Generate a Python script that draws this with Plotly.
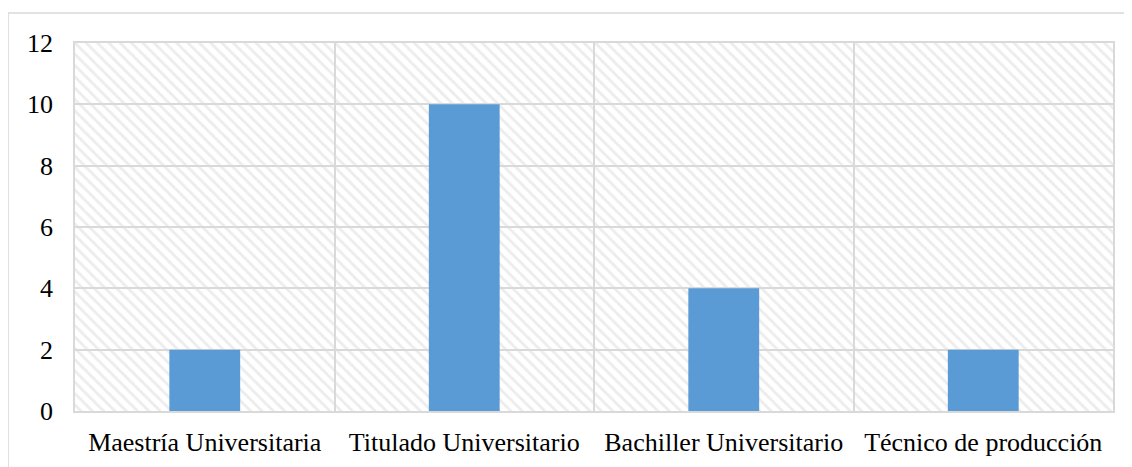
import plotly.graph_objects as go

categories = ["Maestría Universitaria", "Titulado Universitario",
              "Bachiller Universitario", "Técnico de producción"]
values = [2, 10, 4, 2]
y_ticks = [0, 2, 4, 6, 8, 10, 12]

y_max = y_ticks[-1]
xpos = list(range(len(categories)))
grid = "#d9d9d9"
clear = "rgba(0,0,0,0)"

fig = go.Figure()

# hatched plot background (transparent so the gridlines show through)
fig.add_trace(go.Bar(
    x=xpos, y=[y_max] * len(categories), width=1,
    marker=dict(color=clear, line=dict(width=0),
                pattern=dict(shape="\\", size=8, solidity=0.35,
                             fgcolor="#d9d9d9", bgcolor=clear)),
    hoverinfo="skip", showlegend=False,
))

fig.add_trace(go.Bar(
    x=xpos, y=values, width=0.273,
    marker=dict(color="#5b9bd5", line=dict(width=0)),
    showlegend=False,
))

# outer chart border
fig.add_shape(type="rect", xref="paper", yref="paper",
              x0=-0.0645, x1=1.1, y0=-0.2, y1=1.0815,
              line=dict(color=grid, width=1.5))

fig.update_layout(
    width=1132, height=467,
    margin=dict(l=67, r=27, t=35, b=64),
    barmode="overlay",
    plot_bgcolor="white", paper_bgcolor="white",
    font=dict(family="Liberation Serif", size=26, color="black"),
    xaxis=dict(range=[-0.5, len(categories) - 0.5], tickvals=xpos,
               ticktext=categories, showgrid=False, zeroline=False,
               ticks="outside", ticklen=7, tickcolor=clear,
               showline=True, linecolor=grid, linewidth=1.5, mirror=True,
               minor=dict(tickvals=[i + 0.5 for i in xpos[:-1]],
                          showgrid=True, gridcolor=grid, gridwidth=1.5),
               automargin=False),
    yaxis=dict(range=[0, y_max], tickvals=y_ticks, showgrid=True,
               gridcolor=grid, gridwidth=1.5, zeroline=False,
               ticks="outside", ticklen=15, tickcolor=clear,
               showline=True, linecolor=grid, linewidth=1.5, mirror=True,
               automargin=False),
)

fig.write_html("out.html")
